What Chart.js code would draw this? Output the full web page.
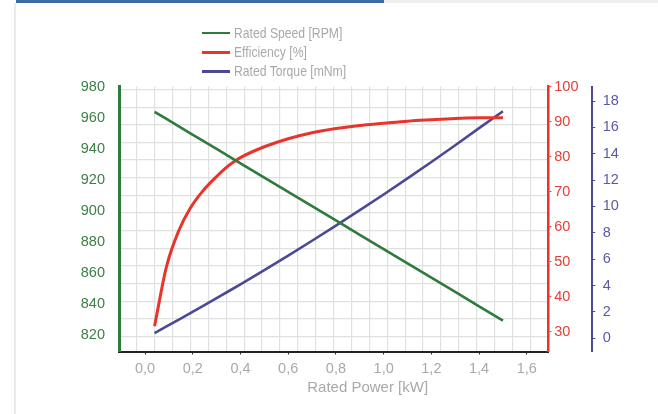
<!DOCTYPE html>
<html>
<head>
<meta charset="utf-8">
<script src="https://cdn.jsdelivr.net/npm/chart.js@4.4.1/dist/chart.umd.min.js"></script>
<style>
  html, body { margin: 0; padding: 0; background: #fff; }
  #wrap { position: relative; width: 658px; height: 414px; overflow: hidden; }
  #topbar { position: absolute; left: 16px; top: 0; width: 642px; height: 3px; background: #eeeeee; }
  #topbar span { display: block; width: 368px; height: 3px; background: #3b6ba7; }
  #edge { position: absolute; left: 14px; top: 3px; width: 2px; height: 411px; background: #ebebeb; }
  canvas { position: absolute; left: 0; top: 0; }
  #legend { position: absolute; left: 202px; top: 23.5px; font-family: "Liberation Sans", Arial, sans-serif; font-size: 14.5px; color: #a9a9a9; }
  .item { height: 19.2px; display: flex; align-items: center; white-space: nowrap; }
  .item i { display: inline-block; width: 28px; height: 2.5px; margin-right: 4px; }
  /* the original legend face is a narrow sans */
  .item span { display: inline-block; transform: scaleX(0.84); transform-origin: left center; }
</style>
</head>
<body>
<div id="wrap">
  <div id="topbar"><span></span></div>
  <div id="edge"></div>
  <canvas id="motorChart" width="658" height="414"></canvas>
  <div id="legend"></div>
</div>
<script>
  // values
  const powerKw = [0.04, 0.09, 0.14, 0.19, 0.24, 0.3, 0.35, 0.4, 0.5, 0.6, 0.7, 0.8, 0.9, 1.0, 1.1, 1.2, 1.3, 1.4, 1.5];
  const speedRpm = [963.7, 959.1, 954.5, 949.9, 945.3, 939.8, 935.2, 930.6, 921.4, 912.2, 903.0, 893.8, 884.6, 875.4, 866.2, 857.0, 847.8, 838.6, 829.4];
  const efficiency = [31.6, 48.6, 58.6, 65.3, 70.0, 74.3, 77.4, 79.7, 82.8, 85.1, 86.8, 88.0, 88.9, 89.5, 90.1, 90.5, 90.85, 91.05, 91.1];
  const torque = [0.40, 0.90, 1.40, 1.91, 2.42, 3.05, 3.57, 4.10, 5.18, 6.28, 7.40, 8.55, 9.72, 10.91, 12.13, 13.37, 14.64, 15.94, 17.22];

  const seriesNames = ['Rated Speed [RPM]', 'Efficiency [%]', 'Rated Torque [mNm]'];
  const seriesColors = ['#2f7b3c', '#e8342b', '#4b4993'];
  const tickColors = ['#3d8046', '#e53d35', '#5b59a0'];
  const xTitle = 'Rated Power [kW]';

  Chart.defaults.font.family = '"Liberation Sans", Arial, sans-serif';

  // Build the stacked legend
  const legendEl = document.getElementById('legend');
  seriesNames.forEach((name, i) => {
    const row = document.createElement('div');
    row.className = 'item';
    const swatch = document.createElement('i');
    swatch.style.background = seriesColors[i];
    const text = document.createElement('span');
    text.textContent = name;
    row.appendChild(swatch);
    row.appendChild(text);
    legendEl.appendChild(row);
  });

  function toPoints(ys) {
    return powerKw.map((x, i) => ({ x: x, y: ys[i] }));
  }

  // x axis title sits a bit right of the plot centre, as in the original
  const xTitlePlugin = {
    id: 'xTitle',
    afterDraw(chart) {
      const { ctx, chartArea } = chart;
      const cx = (chartArea.left + chartArea.right) / 2 + 34;
      ctx.save();
      ctx.font = '15px "Liberation Sans", Arial, sans-serif';
      ctx.fillStyle = '#a9a9a9';
      ctx.textAlign = 'center';
      ctx.textBaseline = 'middle';
      ctx.fillText(xTitle, cx, chartArea.bottom + 36.5);
      ctx.restore();
    }
  };

  const ctx = document.getElementById('motorChart').getContext('2d');
  const motorChart = new Chart(ctx, {
    type: 'line',
    data: {
      datasets: [
        { label: seriesNames[0], data: toPoints(speedRpm), yAxisID: 'y', borderColor: seriesColors[0], borderWidth: 2.6 },
        { label: seriesNames[1], data: toPoints(efficiency), yAxisID: 'y2', borderColor: seriesColors[1], borderWidth: 3, cubicInterpolationMode: 'monotone' },
        { label: seriesNames[2], data: toPoints(torque), yAxisID: 'y3', borderColor: seriesColors[2], borderWidth: 2.6 }
      ]
    },
    options: {
      responsive: false,
      animation: false,
      events: [],
      elements: {
        point: { radius: 0 },
        line: { tension: 0, fill: false, borderCapStyle: 'butt' }
      },
      layout: { padding: { top: 86.5, left: 0, right: 35.7, bottom: 0 } },
      plugins: {
        legend: { display: false },
        tooltip: { enabled: false }
      },
      scales: {
        x: {
          type: 'linear',
          position: 'bottom',
          min: -0.109,
          max: 1.69,
          afterFit: (s) => { s.height = 62.5; },
          border: { display: true, color: '#222222', width: 2 },
          grid: { display: true, drawOnChartArea: false, drawTicks: true, tickLength: 3, color: '#333333' },
          ticks: {
            stepSize: 0.1,
            includeBounds: false,
            autoSkip: false,
            maxRotation: 0,
            padding: 6,
            color: '#a9a9a9',
            font: { size: 14.5 },
            callback: (v) => {
              const tenths = Math.round(v * 10);
              if (tenths < 0 || tenths % 2 !== 0) return null;
              return (tenths / 10).toFixed(1).replace('.', ',');
            }
          }
        },
        y: {
          type: 'linear',
          position: 'left',
          min: 809.5,
          max: 980,
          afterFit: (s) => { s.width = 119; },
          border: { display: true, color: seriesColors[0], width: 3 },
          grid: { display: false },
          ticks: { stepSize: 20, includeBounds: false, autoSkip: false, padding: 6, color: tickColors[0], font: { size: 14.5 } }
        },
        y2: {
          type: 'linear',
          position: 'right',
          min: 24.36,
          max: 100,
          afterFit: (s) => { s.width = 44; },
          border: { display: true, color: seriesColors[1], width: 2.5 },
          grid: { display: true, drawOnChartArea: false, drawTicks: true, tickLength: 3, color: seriesColors[1] },
          ticks: {
            stepSize: 5,
            includeBounds: false,
            autoSkip: false,
            padding: 3,
            color: tickColors[1],
            font: { size: 14.5 },
            callback: (v) => (Math.round(v) % 10 === 0 ? String(v) : null)
          }
        },
        y3: {
          type: 'linear',
          position: 'right',
          min: -1.0,
          max: 19.1,
          afterFit: (s) => { s.width = 30; },
          border: { display: true, color: seriesColors[2], width: 2 },
          grid: { display: true, drawOnChartArea: false, drawTicks: true, tickLength: 3, color: seriesColors[2] },
          ticks: {
            stepSize: 1,
            includeBounds: false,
            autoSkip: false,
            padding: 7.5,
            color: tickColors[2],
            font: { size: 14.5 },
            callback: (v) => (v >= 0 && Math.round(v) % 2 === 0 ? String(v) : null)
          }
        },
        // plain square background grid, independent of the value axes
        gx: {
          type: 'linear',
          position: 'bottom',
          min: 0,
          max: 24,
          afterFit: (s) => { s.height = 0; },
          border: { display: false },
          grid: { color: '#e0e0e0', lineWidth: 1.2, drawTicks: false },
          ticks: { display: false, stepSize: 1, autoSkip: false }
        },
        gy: {
          type: 'linear',
          position: 'left',
          min: 0.15,
          max: 15.17,
          afterFit: (s) => { s.width = 0; },
          border: { display: false },
          grid: { color: '#e0e0e0', lineWidth: 1.2, drawTicks: false },
          ticks: { display: false, stepSize: 1, includeBounds: false, autoSkip: false }
        }
      }
    },
    plugins: [xTitlePlugin]
  });
</script>
</body>
</html>
